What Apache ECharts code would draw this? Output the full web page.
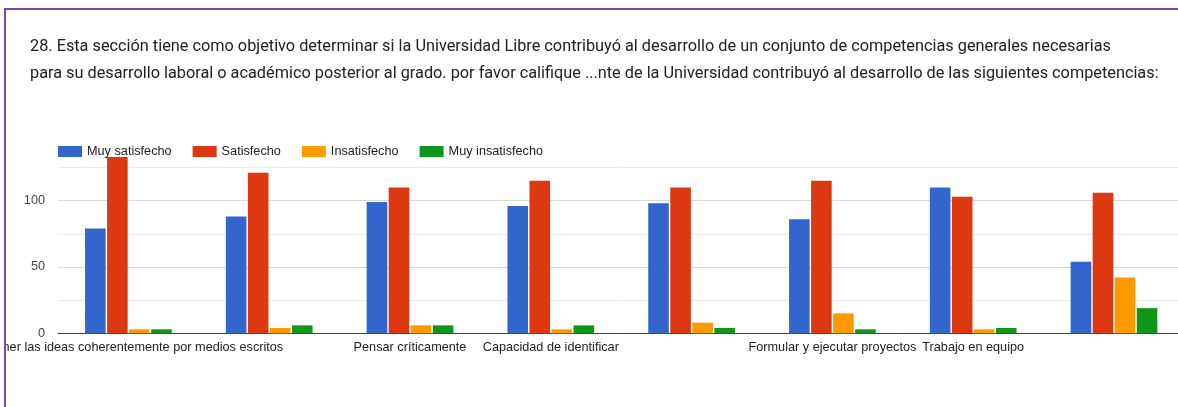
<!DOCTYPE html>
<html>
<head>
<meta charset="utf-8">
<script src="https://cdn.jsdelivr.net/npm/echarts@6/dist/echarts.min.js"></script>
<style>
  html, body { margin: 0; padding: 0; background: #fff; }
  #chart { width: 1178px; height: 407px; }
</style>
</head>
<body>
<div id="chart"></div>
<script>
// ---- data ----
const titleLines = [
  "28. Esta sección tiene como objetivo determinar si la Universidad Libre contribuyó al desarrollo de un conjunto de competencias generales necesarias",
  "para su desarrollo laboral o académico posterior al grado. por favor califique ...nte de la Universidad contribuyó al desarrollo de las siguientes competencias:"
];
const categories = [
  "Exponer las ideas coherentemente por medios escritos",
  "",
  "Pensar críticamente",
  "Capacidad de identificar",
  "",
  "Formular y ejecutar proyectos",
  "Trabajo en equipo",
  ""
];
const seriesNames = ["Muy satisfecho", "Satisfecho", "Insatisfecho", "Muy insatisfecho"];
const muySatisfecho   = [79, 88, 99, 96, 98, 86, 110, 54];
const satisfecho      = [133, 121, 110, 115, 110, 115, 103, 106];
const insatisfecho    = [3, 4, 6, 3, 8, 15, 3, 42];
const muyInsatisfecho = [3, 6, 6, 6, 4, 3, 4, 19];
const yTickLabels = [0, 50, 100];

// ---- chart ----
const colors = ["#3366cc", "#dc3912", "#ff9900", "#109618"];
const FONT = "'Liberation Sans', Arial, sans-serif";
const chart = echarts.init(document.getElementById("chart"), null, { renderer: "canvas" });
const values = [muySatisfecho, satisfecho, insatisfecho, muyInsatisfecho];

chart.setOption({
  animation: false,
  color: colors,
  title: {
    text: titleLines.join("\n"),
    left: 30,
    top: 34,
    padding: 0,
    textStyle: {
      fontFamily: "Roboto, sans-serif",
      fontSize: 16.3,
      fontWeight: "normal",
      lineHeight: 26.5,
      color: "#202124"
    }
  },
  legend: {
    left: 58,
    top: 145,
    padding: 0,
    icon: "rect",
    itemWidth: 24,
    itemHeight: 11,
    itemGap: 21,
    textStyle: { fontFamily: FONT, fontSize: 12.7, color: "#222" },
    data: seriesNames
  },
  grid: {
    left: 58, top: 167.5, width: 1126.4, bottom: 73.7,
    containLabel: false,
    outerBoundsMode: "none"
  },
  xAxis: {
    type: "category",
    data: categories,
    axisLine: { show: true, lineStyle: { color: "#444", width: 1 } },
    axisTick: { show: false },
    axisLabel: {
      interval: 0,
      margin: 8,
      fontFamily: FONT,
      fontSize: 12.7,
      color: "#222"
    }
  },
  yAxis: {
    type: "value",
    min: 0,
    max: 125,
    interval: 25,
    axisLine: { show: false },
    axisTick: { show: false },
    axisLabel: {
      margin: 13,
      fontFamily: FONT,
      fontSize: 12.7,
      color: "#444",
      formatter: v => (yTickLabels.includes(v) ? String(v) : "")
    },
    splitLine: { lineStyle: { color: ["#d9d9d9", "#ececec"], width: 1 } }
  },
  series: seriesNames.map((name, i) => ({
    name: name,
    type: "bar",
    data: values[i],
    barWidth: 20.6,
    barGap: "7%",
    clip: false,
    itemStyle: { color: colors[i] }
  })),
  graphic: [
    { type: "rect", z: 100, shape: { x: 0, y: 0, width: 4, height: 407 }, style: { fill: "#fff" } },
    { type: "rect", z: 101, shape: { x: 4, y: 8, width: 2, height: 399 }, style: { fill: "#7b44b5" } },
    { type: "rect", z: 101, shape: { x: 4, y: 8, width: 1174, height: 2 }, style: { fill: "#7b44b5" } }
  ]
});
</script>
</body>
</html>
